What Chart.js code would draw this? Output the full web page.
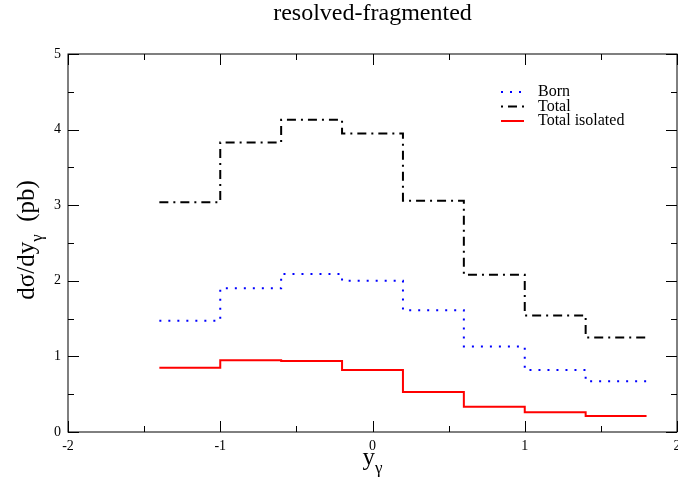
<!DOCTYPE html>
<html>
<head>
<meta charset="utf-8">
<script src="https://cdn.jsdelivr.net/npm/chart.js@4.4.1/dist/chart.umd.min.js"></script>
<style>
  html, body { margin: 0; padding: 0; background: #fff; }
  #wrap { width: 678px; height: 480px; }
</style>
</head>
<body>
<div id="wrap"><canvas id="c" width="678" height="480"></canvas></div>
<script>
// Rapidity bins (edges) and cross sections per bin, in pb
const binEdges = [-1.4, -1.0, -0.6, -0.2, 0.2, 0.6, 1.0, 1.4, 1.8];
const born     = [1.47, 1.90, 2.09, 2.00, 1.61, 1.13, 0.82, 0.67];
const total    = [3.04, 3.83, 4.13, 3.95, 3.06, 2.08, 1.54, 1.25];
const isolated = [0.85, 0.95, 0.94, 0.82, 0.53, 0.335, 0.26, 0.21];

const xTicks = [-2, -1, 0, 1, 2];
const yTicks = [0, 1, 2, 3, 4, 5];

const seriesNames = ['Born', 'Total', 'Total isolated'];

const SERIF = "'Liberation Serif', 'Times New Roman', serif";

// histogram outline: one point per lower bin edge plus the closing edge
function stepPoints(values) {
  const pts = values.map((v, i) => ({ x: binEdges[i], y: v }));
  pts.push({ x: binEdges[binEdges.length - 1], y: values[values.length - 1] });
  return pts;
}

const styles = [
  { color: '#0000ff', dash: [2, 7] },
  { color: '#000000', dash: [9, 5, 2, 5] },
  { color: '#ff0000', dash: [] }
];

const datasets = [born, total, isolated].map((vals, i) => ({
  label: seriesNames[i],
  data: stepPoints(vals),
  stepped: true,
  borderColor: styles[i].color,
  borderDash: styles[i].dash,
  borderWidth: 2,
  borderCapStyle: 'butt',
  pointRadius: 0,
  fill: false
}));

// frame, inward ticks on all four sides, legend and axis titles
const decorations = {
  id: 'decorations',
  afterDraw(chart) {
    const { ctx, chartArea: a, scales } = chart;
    const xs = scales.x, ys = scales.y;
    ctx.save();
    ctx.strokeStyle = '#000';
    ctx.lineWidth = 1;
    ctx.setLineDash([]);
    ctx.strokeRect(a.left, a.top, a.right - a.left, a.bottom - a.top);

    ctx.beginPath();
    for (let v = xs.min; v <= xs.max + 1e-9; v += 0.5) {
      const major = Math.abs(v - Math.round(v)) < 1e-9;
      const len = major ? 11 : 6;
      const px = Math.round(xs.getPixelForValue(v)) + 0.5;
      ctx.moveTo(px, a.bottom); ctx.lineTo(px, a.bottom - len);
      ctx.moveTo(px, a.top); ctx.lineTo(px, a.top + len);
    }
    for (let v = ys.min; v <= ys.max + 1e-9; v += 0.5) {
      const major = Math.abs(v - Math.round(v)) < 1e-9;
      const len = major ? 11 : 6;
      const py = Math.round(ys.getPixelForValue(v)) + 0.5;
      ctx.moveTo(a.left, py); ctx.lineTo(a.left + len, py);
      ctx.moveTo(a.right, py); ctx.lineTo(a.right - len, py);
    }
    ctx.stroke();

    // legend
    const lx0 = 501, lx1 = 524, tx = 538;
    const rows = [92, 106.5, 121];
    ctx.font = '16px ' + SERIF;
    ctx.fillStyle = '#000';
    ctx.textBaseline = 'middle';
    ctx.textAlign = 'left';
    seriesNames.forEach((name, i) => {
      ctx.beginPath();
      ctx.strokeStyle = styles[i].color;
      ctx.lineWidth = 2;
      ctx.lineCap = 'butt';
      ctx.setLineDash(i === 1 ? [2, 5, 9, 5] : styles[i].dash);
      ctx.moveTo(lx0, rows[i]);
      ctx.lineTo(lx1, rows[i]);
      ctx.stroke();
      ctx.fillText(name, tx, rows[i]);
    });
    ctx.setLineDash([]);

    // axis titles with subscripts
    const mainFont = '25px ' + SERIF;
    const subFont = '17px ' + SERIF;
    ctx.fillStyle = '#000';
    ctx.textBaseline = 'alphabetic';

    // x title
    ctx.font = mainFont;
    const wy = ctx.measureText('y').width;
    ctx.font = subFont;
    const wg = ctx.measureText('\u03b3').width;
    const cx = (a.left + a.right) / 2;
    let sx = cx - (wy + wg) / 2;
    ctx.font = mainFont;
    ctx.fillText('y', sx, 465);
    ctx.font = subFont;
    ctx.fillText('\u03b3', sx + wy, 473);

    // y title
    ctx.save();
    ctx.translate(34, (a.top + a.bottom) / 2 - 3);
    ctx.rotate(-Math.PI / 2);
    ctx.font = mainFont;
    const p1 = 'd\u03c3/dy', p3 = '  (pb)';
    const w1 = ctx.measureText(p1).width;
    const w3 = ctx.measureText(p3).width;
    ctx.font = subFont;
    const w2 = ctx.measureText('\u03b3').width;
    let x0 = -(w1 + w2 + w3) / 2;
    ctx.font = mainFont;
    ctx.fillText(p1, x0, 0);
    ctx.font = subFont;
    ctx.fillText('\u03b3', x0 + w1, 8);
    ctx.font = mainFont;
    ctx.fillText(p3, x0 + w1 + w2, 0);
    ctx.restore();

    ctx.restore();
  }
};

new Chart(document.getElementById('c'), {
  type: 'line',
  data: { datasets },
  options: {
    responsive: false,
    animation: false,
    devicePixelRatio: 1,
    layout: { padding: { left: 0, right: 1, top: 0, bottom: 0 } },
    plugins: {
      legend: { display: false },
      tooltip: { enabled: false },
      title: {
        display: true,
        fullSize: false,
        text: 'resolved-fragmented',
        color: '#000',
        font: { family: SERIF, size: 24, weight: 'normal', lineHeight: 1 },
        padding: { top: 2, bottom: 28 }
      }
    },
    scales: {
      x: {
        type: 'linear',
        min: xTicks[0],
        max: xTicks[xTicks.length - 1],
        grid: { display: false, drawTicks: false },
        border: { display: false },
        afterBuildTicks(scale) { scale.ticks = xTicks.map(v => ({ value: v })); },
        ticks: {
          color: '#000',
          font: { family: SERIF, size: 14 },
          padding: 6,
          maxRotation: 0,
          autoSkip: false
        },
        afterFit(scale) { scale.height = 48; scale.paddingLeft = 0; scale.paddingRight = 0; }
      },
      y: {
        type: 'linear',
        min: yTicks[0],
        max: yTicks[yTicks.length - 1],
        grid: { display: false, drawTicks: false },
        border: { display: false },
        afterBuildTicks(scale) { scale.ticks = yTicks.map(v => ({ value: v })); },
        ticks: {
          color: '#000',
          font: { family: SERIF, size: 14 },
          padding: 7,
          autoSkip: false
        },
        afterFit(scale) { scale.width = 68; scale.paddingTop = 0; scale.paddingBottom = 0; }
      }
    }
  },
  plugins: [decorations]
});
</script>
</body>
</html>
